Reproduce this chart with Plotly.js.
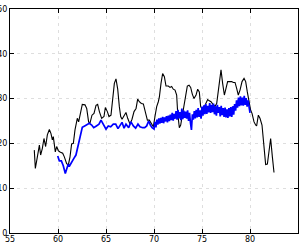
<!DOCTYPE html>
<html>
<head>
<meta charset="utf-8">
<script src="https://cdn.plot.ly/plotly-3.0.1.min.js"></script>
<style>html,body{margin:0;padding:0;background:#fff;}#chart{width:299px;height:243px;}</style>
</head>
<body>
<div id="chart"></div>
<script>
var blackX = [57.53,57.64,57.85,58.06,58.19,58.37,58.54,58.71,58.89,59.10,59.27,59.41,59.51,59.62,59.72,59.86,60.03,60.21,60.49,60.66,60.90,61.08,61.25,61.42,61.60,61.77,62.01,62.15,62.36,62.53,62.81,62.99,63.19,63.33,63.54,63.75,63.96,64.13,64.31,64.55,64.79,64.93,65.14,65.31,65.52,65.69,65.87,66.04,66.22,66.39,66.53,66.67,66.88,67.08,67.26,67.50,67.71,67.92,68.13,68.30,68.47,68.68,68.89,69.10,69.31,69.51,69.76,69.93,70.10,70.28,70.45,70.56,70.73,70.90,71.08,71.25,71.49,71.67,71.84,72.01,72.19,72.36,72.47,72.64,72.78,72.95,73.12,73.30,73.47,73.65,73.82,73.99,74.17,74.38,74.55,74.72,74.86,75.07,75.24,75.42,75.59,75.76,75.94,76.18,76.35,76.53,76.70,76.88,76.98,77.15,77.33,77.50,77.67,77.92,78.09,78.26,78.44,78.61,78.78,78.96,79.17,79.38,79.55,79.72,79.90,80.07,80.21,80.42,80.59,80.69,80.87,81.04,81.25,81.42,81.63,81.81,81.98,82.15,82.33,82.50];
var blackY = [18.5,14.4,17.0,19.6,17.4,18.9,21.1,19.3,21.9,23.1,22.2,20.8,21.5,20.0,18.1,19.3,18.4,18.1,17.8,17.0,15.5,15.2,17.0,19.9,20.0,23.0,25.6,24.8,27.4,28.7,28.6,27.8,24.8,24.5,26.3,26.7,28.5,28.7,27.1,25.6,26.0,28.0,27.1,26.0,26.3,30.1,33.4,34.4,32.1,28.2,26.0,25.4,26.3,26.9,25.6,24.3,25.4,27.1,27.8,29.9,29.3,28.9,28.8,26.7,25.2,25.2,24.1,23.7,26.0,28.2,29.3,30.4,33.4,35.6,34.9,32.8,32.8,32.5,32.7,32.1,31.9,30.8,26.7,23.5,24.1,26.3,28.9,31.2,32.8,33.0,32.5,31.0,30.0,30.8,32.1,31.5,28.2,27.4,28.2,29.3,29.8,29.5,29.3,28.6,28.3,28.9,31.9,34.5,36.4,33.4,30.8,32.3,33.8,33.8,33.8,33.6,33.6,32.3,30.8,31.9,33.8,34.5,33.8,31.5,28.9,27.4,26.7,24.8,24.1,23.9,26.3,25.6,24.1,20.0,15.3,15.4,18.1,21.1,17.0,13.5];

var blueX = [59.97,60.14,60.35,60.55,60.76,60.90,61.04,61.21,61.42,61.67,61.87,62.12,62.36,62.53,62.78,62.99,63.26,63.51,63.72,64.00,64.27,64.48,64.72,65.00,65.24,65.49,65.76,66.01,66.25,66.46,66.67,66.88,67.08,67.36,67.60,67.85,68.09,68.33,68.54,68.82,69.03,69.24,69.44,69.62,69.80,
70.0,70.1,70.2,70.3,70.4,70.5,70.6,70.7,70.8,70.9,71.0,71.1,71.2,71.3,71.4,71.5,71.6,71.7,71.8,71.9,72.0,72.1,72.2,72.3,72.4,72.5,72.6,72.7,72.8,72.9,73.0,73.1,73.2,73.3,73.4,73.5,73.6,73.7,73.8,73.9,74.0,74.1,74.2,74.3,74.4,74.5,74.6,74.7,74.8,74.9,75.0,75.1,75.2,75.3,75.4,75.5,75.6,75.7,75.8,75.9,76.0,76.1,76.2,76.3,76.4,76.5,76.6,76.7,76.8,76.9,77.0,77.1,77.2,77.3,77.4,77.5,77.6,77.7,77.8,77.9,78.0,78.1,78.2,78.3,78.4,78.5,78.6,78.7,78.8,78.9,79.0,79.1,79.2,79.3,79.4,79.5,79.6,79.7,79.8,79.9,80.0];
var blueY = [17.2,16.1,16.1,15.0,13.3,14.1,15.2,15.0,15.9,16.7,17.4,20.0,22.2,23.6,23.9,24.1,24.5,24.1,23.5,23.9,24.3,25.2,24.3,23.2,23.9,23.7,24.3,24.3,23.3,24.1,24.7,23.4,24.3,23.5,24.8,23.9,23.4,24.3,23.7,23.5,23.5,23.9,25.0,24.1,23.5,
23.2,24.8,23.6,25.3,24.2,25.6,24.4,25.7,24.6,25.9,24.5,25.8,24.9,26.1,24.7,26.2,25.0,26.4,25.2,26.8,25.1,26.6,25.5,27.2,25.3,27.5,25.6,27.0,25.2,27.8,25.4,27.3,25.7,27.1,25.5,27.4,25.0,26.8,24.6,23.0,26.5,25.3,27.2,25.6,27.5,25.8,27.9,25.9,27.4,25.5,28.2,26.2,28.5,26.5,28.8,26.6,28.4,26.9,29.0,26.8,28.6,27.0,28.9,26.5,28.3,26.2,28.6,26.8,28.1,26.0,28.4,26.3,27.9,25.9,28.0,25.8,27.6,25.7,27.9,26.0,28.1,25.9,28.3,26.4,28.8,27.3,29.6,28.0,30.2,28.3,30.5,28.5,30.2,28.4,30.6,28.6,30.1,28.2,29.6,27.8,26.8];

var xTicks = [55,60,65,70,75,80,85];
var yTicks = [0,10,20,30,40,50];

var traces = [
  {x: blackX, y: blackY, mode: 'lines', line: {color: '#000000', width: 1.1}, hoverinfo: 'skip'},
  {x: blueX, y: blueY, mode: 'lines', line: {color: '#0000ff', width: 1.7}, hoverinfo: 'skip'}
];

var axisCommon = {
  showline: true, linecolor: '#000000', linewidth: 1, mirror: 'allticks',
  ticks: 'inside', ticklen: 4, tickcolor: '#000000', tickwidth: 1,
  showgrid: true, gridcolor: '#dedede', griddash: '3px,4px', gridwidth: 1,
  zeroline: false, tickfont: {family: 'DejaVu Sans', size: 8, color: '#000000'}
};

var layout = {
  width: 299, height: 243,
  margin: {l: 10, r: 1, t: 9, b: 10, pad: 0},
  paper_bgcolor: '#ffffff', plot_bgcolor: '#ffffff',
  showlegend: false,
  xaxis: Object.assign({}, axisCommon, {range: [55, 85], tickmode: 'array', tickvals: xTicks, ticktext: xTicks.map(String), ticklabelstandoff: -2}),
  yaxis: Object.assign({}, axisCommon, {range: [0, 50], tickmode: 'array', tickvals: yTicks, ticktext: yTicks.map(String)})
};

Plotly.newPlot('chart', traces, layout, {staticPlot: true, displayModeBar: false});
</script>
</body>
</html>
